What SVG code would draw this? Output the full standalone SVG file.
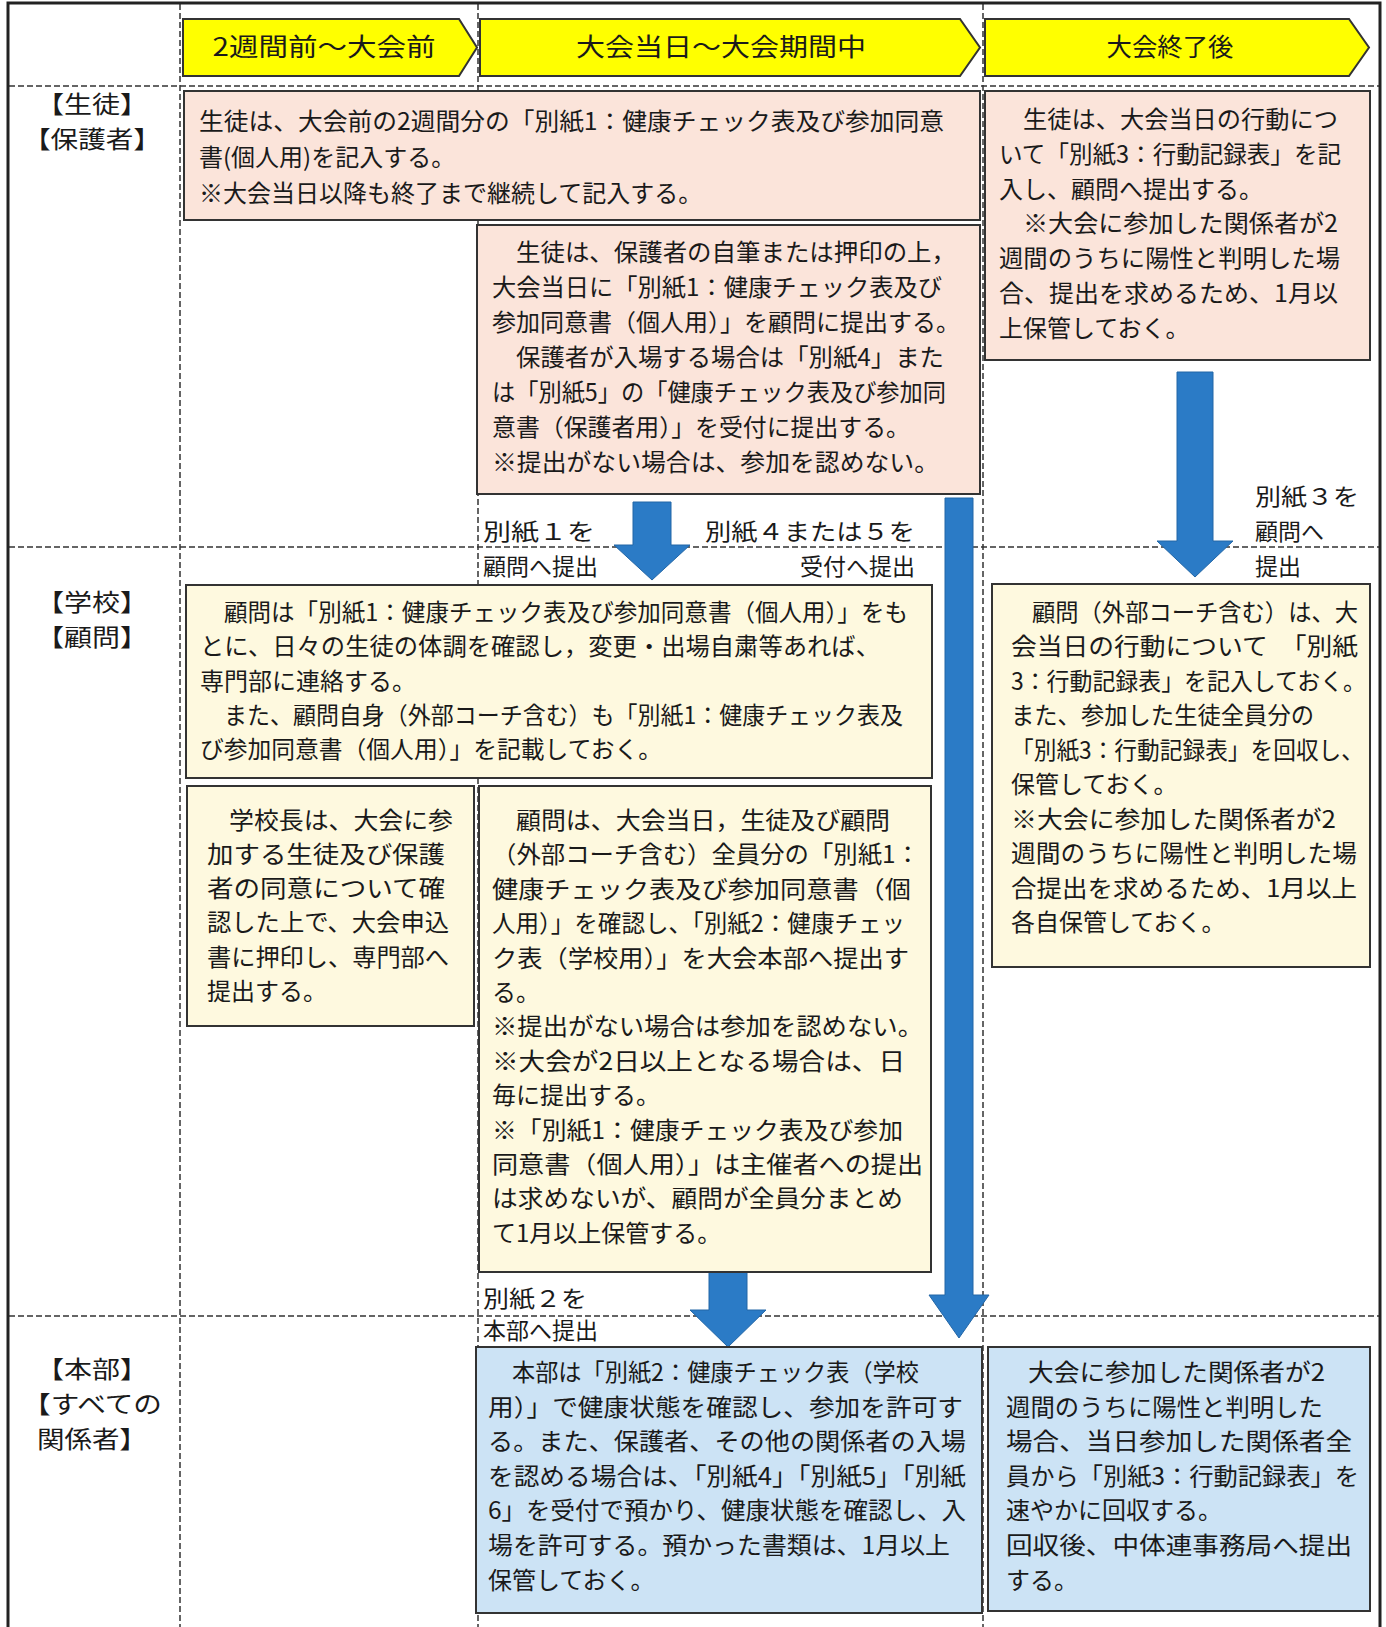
<svg xmlns="http://www.w3.org/2000/svg" width="1386" height="1627" viewBox="0 0 1386 1627">
<style>
.t{font-family:"Noto Sans CJK JP","Noto Sans CJK SC",sans-serif;font-size:24px;fill:#1a1a1a}
.lbl{font-size:24px}
.hd{font-size:25px}
.al{font-size:23px}
.pink{fill:#FBE4DA;stroke:#333;stroke-width:2}
.yel{fill:#FEF9DF;stroke:#333;stroke-width:2}
.blu{fill:#CCE3F5;stroke:#333;stroke-width:2}
.hdr{fill:#FFFF00;stroke:#333;stroke-width:2}
.dash{stroke:#333;stroke-width:1.5;stroke-dasharray:6 3;fill:none}
.arr{fill:#2B7BC6;stroke:#2366A6;stroke-width:1}
</style>
<rect width="1386" height="1627" fill="#ffffff"/>
<g id="grid">
<line class="dash" x1="180" y1="4" x2="180" y2="1627"/>
<line class="dash" x1="478" y1="4" x2="478" y2="1627"/>
<line class="dash" x1="983" y1="4" x2="983" y2="1627"/>
<line class="dash" x1="9" y1="86" x2="1380" y2="86"/>
<line class="dash" x1="9" y1="547" x2="1380" y2="547"/>
<line class="dash" x1="9" y1="1316" x2="1380" y2="1316"/>
<rect x="8" y="3" width="1372" height="1640" fill="none" stroke="#222" stroke-width="3"/>
</g>
<g id="row-labels">
<text class="t lbl" x="92" y="113" text-anchor="middle" textLength="112" lengthAdjust="spacingAndGlyphs">【生徒】</text>
<text class="t lbl" x="92" y="148" text-anchor="middle" textLength="138" lengthAdjust="spacingAndGlyphs">【保護者】</text>
<text class="t lbl" x="92" y="611" text-anchor="middle" textLength="112" lengthAdjust="spacingAndGlyphs">【学校】</text>
<text class="t lbl" x="92" y="646" text-anchor="middle" textLength="112" lengthAdjust="spacingAndGlyphs">【顧問】</text>
<text class="t lbl" x="92" y="1378" text-anchor="middle" textLength="112" lengthAdjust="spacingAndGlyphs">【本部】</text>
<text class="t lbl" x="92" y="1413" text-anchor="middle" textLength="140" lengthAdjust="spacingAndGlyphs">【すべての</text>
<text class="t lbl" x="92" y="1448" text-anchor="middle" textLength="110" lengthAdjust="spacingAndGlyphs">関係者】</text>
</g>
<g id="header1">
<polygon class="hdr" points="183,19 459,19 477,47.5 459,76 183,76"/>
<text class="t hd" x="324" y="56" text-anchor="middle" textLength="223" lengthAdjust="spacingAndGlyphs">2週間前〜大会前</text>
</g>
<g id="header2">
<polygon class="hdr" points="480,19 960,19 980,47.5 960,76 480,76"/>
<text class="t hd" x="721" y="56" text-anchor="middle" textLength="290" lengthAdjust="spacingAndGlyphs">大会当日〜大会期間中</text>
</g>
<g id="header3">
<polygon class="hdr" points="985,19 1349,19 1369,47.5 1349,76 985,76"/>
<text class="t hd" x="1170" y="56" text-anchor="middle" textLength="127" lengthAdjust="spacingAndGlyphs">大会終了後</text>
</g>
<g id="connectors">
<polygon class="arr" points="633,502 671,502 671,545 690,545 652,580 614,545 633,545"/>
<polygon class="arr" points="1177,372 1213,372 1213,541 1233,541 1195,577 1157,541 1177,541"/>
<polygon class="arr" points="945,498 973,498 973,1295 989,1295 959,1338 929,1295 945,1295"/>
<polygon class="arr" points="709,1268 747,1268 747,1310 766,1310 728,1347 690,1310 709,1310"/>
<text class="t al" x="483" y="540" textLength="112" lengthAdjust="spacingAndGlyphs">別紙１を</text>
<text class="t al" x="483" y="575">顧問へ提出</text>
<text class="t al" x="915" y="540" text-anchor="end" textLength="210" lengthAdjust="spacingAndGlyphs">別紙４または５を</text>
<text class="t al" x="915" y="575" text-anchor="end">受付へ提出</text>
<text class="t al" x="1255" y="505" textLength="104" lengthAdjust="spacingAndGlyphs">別紙３を</text>
<text class="t al" x="1255" y="540">顧問へ</text>
<text class="t al" x="1255" y="575">提出</text>
<text class="t al" x="483" y="1307" textLength="104" lengthAdjust="spacingAndGlyphs">別紙２を</text>
<text class="t al" x="483" y="1339">本部へ提出</text>
</g>
<g id="pink1">
<rect class="pink" x="184" y="91" width="796" height="129"/>
<text class="t" x="199" y="130" textLength="745" lengthAdjust="spacingAndGlyphs">生徒は、大会前の2週間分の「別紙1：健康チェック表及び参加同意</text>
<text class="t" x="199" y="166">書(個人用)を記入する。</text>
<text class="t" x="199" y="202">※大会当日以降も終了まで継続して記入する。</text>
</g>
<g id="pink2">
<rect class="pink" x="477" y="225" width="503" height="269"/>
<text class="t" x="516" y="261" textLength="440" lengthAdjust="spacingAndGlyphs">生徒は、保護者の自筆または押印の上，</text>
<text class="t" x="492" y="296" textLength="450" lengthAdjust="spacingAndGlyphs">大会当日に「別紙1：健康チェック表及び</text>
<text class="t" x="492" y="331" textLength="468" lengthAdjust="spacingAndGlyphs">参加同意書（個人用）」を顧問に提出する。</text>
<text class="t" x="516" y="366" textLength="428" lengthAdjust="spacingAndGlyphs">保護者が入場する場合は「別紙4」また</text>
<text class="t" x="492" y="401" textLength="454" lengthAdjust="spacingAndGlyphs">は「別紙5」の「健康チェック表及び参加同</text>
<text class="t" x="492" y="436" textLength="418" lengthAdjust="spacingAndGlyphs">意書（保護者用）」を受付に提出する。</text>
<text class="t" x="492" y="471" textLength="447" lengthAdjust="spacingAndGlyphs">※提出がない場合は、参加を認めない。</text>
</g>
<g id="pink3">
<rect class="pink" x="985" y="91" width="385" height="269"/>
<text class="t" x="1023" y="128" textLength="315" lengthAdjust="spacingAndGlyphs">生徒は、大会当日の行動につ</text>
<text class="t" x="999" y="163" textLength="342" lengthAdjust="spacingAndGlyphs">いて「別紙3：行動記録表」を記</text>
<text class="t" x="999" y="198">入し、顧問へ提出する。</text>
<text class="t" x="1023" y="232" textLength="315" lengthAdjust="spacingAndGlyphs">※大会に参加した関係者が2</text>
<text class="t" x="999" y="267" textLength="341" lengthAdjust="spacingAndGlyphs">週間のうちに陽性と判明した場</text>
<text class="t" x="999" y="302" textLength="339" lengthAdjust="spacingAndGlyphs">合、提出を求めるため、1月以</text>
<text class="t" x="999" y="337">上保管しておく。</text>
</g>
<g id="yellow1">
<rect class="yel" x="186" y="585" width="746" height="193"/>
<text class="t" x="224" y="621" textLength="684" lengthAdjust="spacingAndGlyphs">顧問は「別紙1：健康チェック表及び参加同意書（個人用）」をも</text>
<text class="t" x="200" y="655" textLength="680" lengthAdjust="spacingAndGlyphs">とに、日々の生徒の体調を確認し，変更・出場自粛等あれば、</text>
<text class="t" x="200" y="690">専門部に連絡する。</text>
<text class="t" x="224" y="724" textLength="679" lengthAdjust="spacingAndGlyphs">また、顧問自身（外部コーチ含む）も「別紙1：健康チェック表及</text>
<text class="t" x="200" y="758" textLength="462" lengthAdjust="spacingAndGlyphs">び参加同意書（個人用）」を記載しておく。</text>
</g>
<g id="yellow2">
<rect class="yel" x="187" y="786" width="287" height="240"/>
<text class="t" x="229" y="829" textLength="224" lengthAdjust="spacingAndGlyphs">学校長は、大会に参</text>
<text class="t" x="207" y="863" textLength="238" lengthAdjust="spacingAndGlyphs">加する生徒及び保護</text>
<text class="t" x="207" y="897" textLength="238" lengthAdjust="spacingAndGlyphs">者の同意について確</text>
<text class="t" x="207" y="931" textLength="242" lengthAdjust="spacingAndGlyphs">認した上で、大会申込</text>
<text class="t" x="207" y="966" textLength="242" lengthAdjust="spacingAndGlyphs">書に押印し、専門部へ</text>
<text class="t" x="207" y="1000">提出する。</text>
</g>
<g id="yellow4">
<rect class="yel" x="479" y="786" width="452" height="486"/>
<text class="t" x="516" y="829" textLength="374" lengthAdjust="spacingAndGlyphs">顧問は、大会当日，生徒及び顧問</text>
<text class="t" x="492" y="863" textLength="428" lengthAdjust="spacingAndGlyphs">（外部コーチ含む）全員分の「別紙1：</text>
<text class="t" x="492" y="898" textLength="419" lengthAdjust="spacingAndGlyphs">健康チェック表及び参加同意書（個</text>
<text class="t" x="492" y="932" textLength="413" lengthAdjust="spacingAndGlyphs">人用）」を確認し、「別紙2：健康チェッ</text>
<text class="t" x="492" y="967" textLength="417" lengthAdjust="spacingAndGlyphs">ク表（学校用）」を大会本部へ提出す</text>
<text class="t" x="492" y="1001">る。</text>
<text class="t" x="492" y="1035" textLength="431" lengthAdjust="spacingAndGlyphs">※提出がない場合は参加を認めない。</text>
<text class="t" x="492" y="1070" textLength="413" lengthAdjust="spacingAndGlyphs">※大会が2日以上となる場合は、日</text>
<text class="t" x="492" y="1104">毎に提出する。</text>
<text class="t" x="492" y="1139" textLength="411" lengthAdjust="spacingAndGlyphs">※「別紙1：健康チェック表及び参加</text>
<text class="t" x="492" y="1173" textLength="431" lengthAdjust="spacingAndGlyphs">同意書（個人用）」は主催者への提出</text>
<text class="t" x="492" y="1207" textLength="411" lengthAdjust="spacingAndGlyphs">は求めないが、顧問が全員分まとめ</text>
<text class="t" x="492" y="1242">て1月以上保管する。</text>
</g>
<g id="yellow3">
<rect class="yel" x="992" y="584" width="378" height="383"/>
<text class="t" x="1032" y="621" textLength="326" lengthAdjust="spacingAndGlyphs">顧問（外部コーチ含む）は、大</text>
<text class="t" x="1011" y="655" textLength="347" lengthAdjust="spacingAndGlyphs">会当日の行動について　「別紙</text>
<text class="t" x="1011" y="690" textLength="355" lengthAdjust="spacingAndGlyphs">3：行動記録表」を記入しておく。</text>
<text class="t" x="1011" y="724" textLength="303" lengthAdjust="spacingAndGlyphs">また、参加した生徒全員分の</text>
<text class="t" x="1011" y="759" textLength="353" lengthAdjust="spacingAndGlyphs">「別紙3：行動記録表」を回収し、</text>
<text class="t" x="1011" y="793">保管しておく。</text>
<text class="t" x="1011" y="828" textLength="325" lengthAdjust="spacingAndGlyphs">※大会に参加した関係者が2</text>
<text class="t" x="1011" y="862" textLength="346" lengthAdjust="spacingAndGlyphs">週間のうちに陽性と判明した場</text>
<text class="t" x="1011" y="897" textLength="346" lengthAdjust="spacingAndGlyphs">合提出を求めるため、1月以上</text>
<text class="t" x="1011" y="931">各自保管しておく。</text>
</g>
<g id="blue1">
<rect class="blu" x="476" y="1347" width="506" height="266"/>
<text class="t" x="512" y="1381" textLength="407" lengthAdjust="spacingAndGlyphs">本部は「別紙2：健康チェック表（学校</text>
<text class="t" x="488" y="1416" textLength="475" lengthAdjust="spacingAndGlyphs">用）」で健康状態を確認し、参加を許可す</text>
<text class="t" x="488" y="1450" textLength="478" lengthAdjust="spacingAndGlyphs">る。また、保護者、その他の関係者の入場</text>
<text class="t" x="488" y="1485" textLength="478" lengthAdjust="spacingAndGlyphs">を認める場合は、「別紙4」「別紙5」「別紙</text>
<text class="t" x="488" y="1519" textLength="478" lengthAdjust="spacingAndGlyphs">6」を受付で預かり、健康状態を確認し、入</text>
<text class="t" x="488" y="1554" textLength="462" lengthAdjust="spacingAndGlyphs">場を許可する。預かった書類は、1月以上</text>
<text class="t" x="488" y="1589">保管しておく。</text>
</g>
<g id="blue2">
<rect class="blu" x="988" y="1347" width="382" height="264"/>
<text class="t" x="1028" y="1381" textLength="297" lengthAdjust="spacingAndGlyphs">大会に参加した関係者が2</text>
<text class="t" x="1006" y="1416" textLength="317" lengthAdjust="spacingAndGlyphs">週間のうちに陽性と判明した</text>
<text class="t" x="1006" y="1450" textLength="346" lengthAdjust="spacingAndGlyphs">場合、当日参加した関係者全</text>
<text class="t" x="1006" y="1485" textLength="353" lengthAdjust="spacingAndGlyphs">員から「別紙3：行動記録表」を</text>
<text class="t" x="1006" y="1519">速やかに回収する。</text>
<text class="t" x="1006" y="1554" textLength="346" lengthAdjust="spacingAndGlyphs">回収後、中体連事務局へ提出</text>
<text class="t" x="1006" y="1589">する。</text>
</g>
</svg>
